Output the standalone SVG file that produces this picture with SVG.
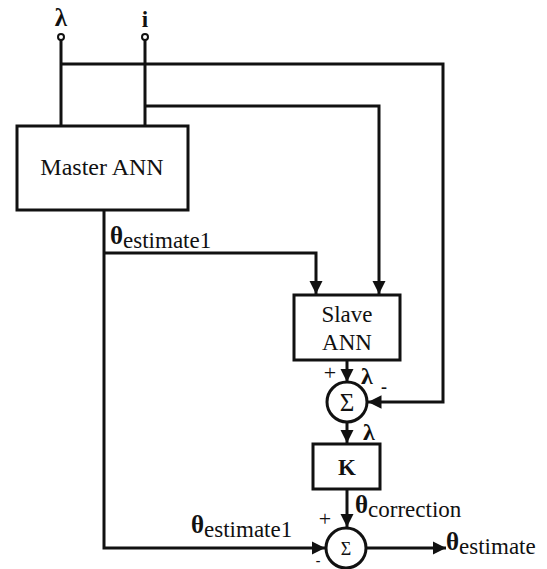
<svg xmlns="http://www.w3.org/2000/svg" width="547" height="569" viewBox="0 0 547 569">
  <style>
    .ln { fill: none; stroke: #111; stroke-width: 3; }
    .box { fill: #fff; stroke: #111; stroke-width: 3; }
    .t { font-family: "Liberation Serif", "Times New Roman", serif; fill: #111; }
    .b { font-weight: bold; }
  </style>
  <defs>
    <marker id="ah" viewBox="0 0 10 10" refX="10" refY="5" markerWidth="4.5" markerHeight="4.5" orient="auto" markerUnits="strokeWidth">
      <path d="M0,0 L10,5 L0,10 z" fill="#111"/>
    </marker>
  </defs>

  <g id="connectors">
    <!-- lambda input -->
    <path class="ln" d="M61,40 V126"/>
    <path class="ln" d="M61,64 H443 V402 H368" marker-end="url(#ah)"/>
    <!-- i input -->
    <path class="ln" d="M145,40 V126"/>
    <path class="ln" d="M145,106 H379 V294" marker-end="url(#ah)"/>
    <!-- master output -->
    <path class="ln" d="M104,210 V548 H325" marker-end="url(#ah)"/>
    <path class="ln" d="M104,253 H316 V294" marker-end="url(#ah)"/>
    <!-- slave to sum -->
    <path class="ln" d="M347,360 V382" marker-end="url(#ah)"/>
    <!-- sum to K -->
    <path class="ln" d="M347,422 V443" marker-end="url(#ah)"/>
    <!-- K to sum -->
    <path class="ln" d="M347,489 V527" marker-end="url(#ah)"/>
    <!-- output -->
    <path class="ln" d="M367,548 H446" marker-end="url(#ah)"/>
  </g>

  <g id="in-lambda">
    <circle cx="61" cy="37" r="3" fill="#fff" stroke="#111" stroke-width="2"/>
    <text class="t b" x="61" y="26" font-size="25" text-anchor="middle">λ</text>
  </g>
  <g id="in-i">
    <circle cx="145" cy="37" r="3" fill="#fff" stroke="#111" stroke-width="2"/>
    <text class="t b" x="145" y="27" font-size="23" text-anchor="middle">i</text>
  </g>

  <g id="master-ann">
    <rect class="box" x="17" y="126" width="171" height="84"/>
    <text class="t" x="102" y="175" font-size="24" text-anchor="middle">Master ANN</text>
  </g>
  <text class="t" x="110" y="244" font-size="23"><tspan class="b" font-size="25">θ</tspan><tspan dy="4">estimate1</tspan></text>

  <g id="slave-ann">
    <rect class="box" x="294" y="295" width="106" height="65"/>
    <text class="t" x="347" y="322" font-size="23" text-anchor="middle">Slave</text>
    <text class="t" x="347" y="350" font-size="23" text-anchor="middle">ANN</text>
  </g>

  <g id="sum-1">
    <circle cx="347" cy="402" r="20" fill="#fff" stroke="#111" stroke-width="3"/>
    <text class="t" x="347" y="411" font-size="25" text-anchor="middle">Σ</text>
    <text class="t" x="330" y="380" font-size="22" text-anchor="middle">+</text>
    <text class="t b" x="367" y="384" font-size="24" text-anchor="middle">λ</text>
    <text class="t b" x="384" y="393" font-size="18" text-anchor="middle">-</text>
    <text class="t b" x="369" y="440" font-size="24" text-anchor="middle">λ</text>
  </g>

  <g id="gain-k">
    <rect class="box" x="313" y="444" width="67" height="45"/>
    <text class="t b" x="347" y="475" font-size="23" text-anchor="middle">K</text>
  </g>
  <text class="t" x="355" y="513" font-size="23"><tspan class="b" font-size="25">θ</tspan><tspan dy="4">correction</tspan></text>

  <g id="sum-2">
    <circle cx="346" cy="548" r="20" fill="#fff" stroke="#111" stroke-width="3"/>
    <text class="t" x="346" y="555" font-size="18" text-anchor="middle">Σ</text>
    <text class="t" x="325" y="526" font-size="22" text-anchor="middle">+</text>
    <text class="t b" x="318" y="565" font-size="14" text-anchor="middle">-</text>
  </g>
  <text class="t" x="191" y="533" font-size="23"><tspan class="b" font-size="25">θ</tspan><tspan dy="4">estimate1</tspan></text>
  <text class="t" x="446" y="550" font-size="23"><tspan class="b" font-size="25">θ</tspan><tspan dy="4">estimate</tspan></text>
</svg>
